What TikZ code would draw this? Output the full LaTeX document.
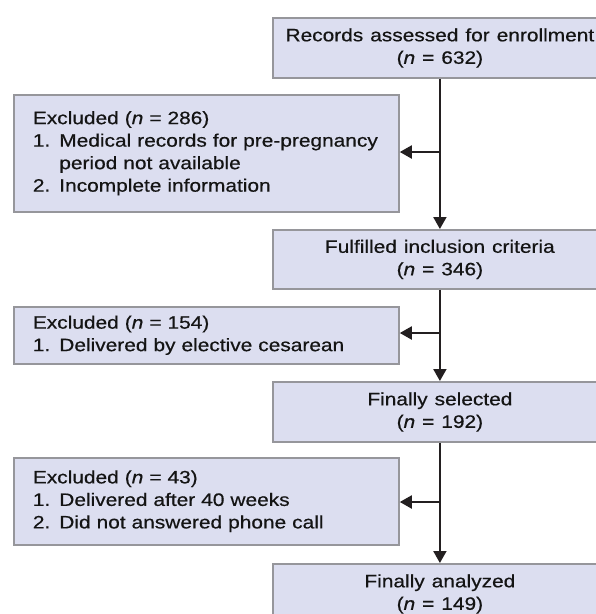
\documentclass[tikz,border=0pt]{standalone}
\usepackage{fontspec}
\setmainfont[FakeStretch=1.16, WordSpace=1.2, FakeBold=0.5]{Liberation Sans}
\usetikzlibrary{arrows.meta}
\definecolor{boxfill}{RGB}{220,222,240}
\definecolor{boxline}{RGB}{150,150,155}
\definecolor{conn}{RGB}{35,31,32}
\newcommand{\exlines}[1]{\hspace*{19pt}\begin{tabular}{@{}l@{}}#1\end{tabular}}
\begin{document}
\begin{tikzpicture}[x=1pt,y=-1pt,
  every node/.style={font=\fontsize{18}{22.5}\selectfont, text=black!92},
  mainbox/.style={draw=boxline, fill=boxfill, line width=1.8pt, minimum width=334pt, minimum height=60pt, align=center, inner sep=0pt, anchor=north west},
  exbox/.style={draw=boxline, fill=boxfill, line width=1.8pt, minimum width=385pt, text width=385pt, inner xsep=0pt, inner ysep=0pt, align=left, anchor=north west},
  arr/.style={draw=conn, line width=2pt, -{Triangle[length=12pt,width=13pt]}}
]
\useasboundingbox (0,0) rectangle (596,614);
\node[mainbox] (rec) at (272,17) {Records assessed for enrollment\\(\textit{n} = 632)};
\node[exbox, minimum height=117pt] (ex1) at (13,94) {\exlines{Excluded (\textit{n} = 286)\\1. Medical records for pre-pregnancy\\\phantom{1. }period not available\\2. Incomplete information}};
\node[mainbox, minimum height=59pt] (ful) at (272,229) {Fulfilled inclusion criteria\\(\textit{n} = 346)};
\node[exbox, minimum height=57pt] (ex2) at (13,306) {\exlines{Excluded (\textit{n} = 154)\\1. Delivered by elective cesarean}};
\node[mainbox] (sel) at (272,381) {Finally selected\\(\textit{n} = 192)};
\node[exbox, minimum height=87pt] (ex3) at (13,457) {\exlines{Excluded (\textit{n} = 43)\\1. Delivered after 40 weeks\\2. Did not answered phone call}};
\node[mainbox] (ana) at (272,563) {Finally analyzed\\(\textit{n} = 149)};
\coordinate (j1) at (439,152);
\coordinate (j2) at (439,333);
\coordinate (j3) at (439,502);
\draw[arr] (rec.south) -- (ful.north);
\draw[arr] (ful.south) -- (sel.north);
\draw[arr] (sel.south) -- (ana.north);
\draw[arr] (j1) -- (j1 -| ex1.east);
\draw[arr] (j2) -- (j2 -| ex2.east);
\draw[arr] (j3) -- (j3 -| ex3.east);
\end{tikzpicture}
\end{document}
